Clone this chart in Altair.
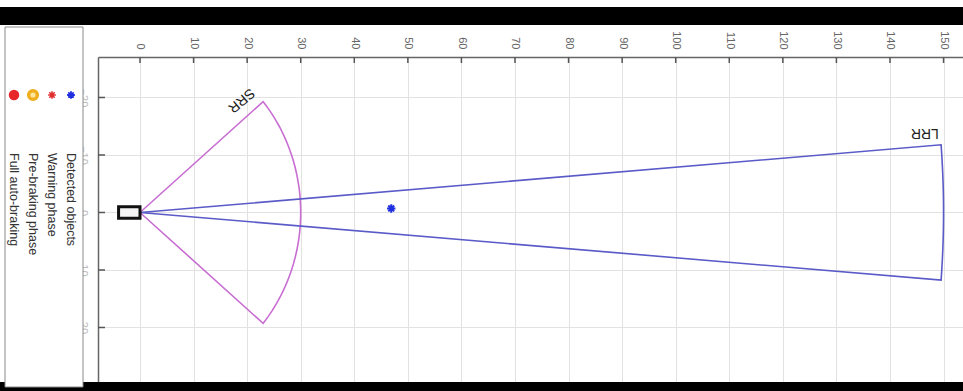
import altair as alt
import numpy as np
import pandas as pd

# Sensor coverage parameters (range in m, half opening angle in degrees)
sensor_names = ["SRR", "LRR"]
sensor_range = [30.0, 150.0]
sensor_half_angle = [40.0, 4.5]
sensor_colors = ["#c86ed2", "#5a5ac8"]

# Sensor label anchor points and text angles
label_x = [18.9, 146.5]
label_y = [-19.5, -13.9]
label_angle = [140, 180]

# Ego vehicle footprint (m)
car_x = [-4.0]
car_x2 = [0.0]
car_y = [-1.0]
car_y2 = [1.0]

# Detected object
obj_x = [46.9]
obj_y = [-0.7]

# Axis ticks
x_ticks = list(range(0, 151, 10))
y_ticks = [-20, -10, 0, 10, 20]

# Legend entries (left to right)
legend_names = ["Full auto-braking", "Pre-braking phase", "Warning phase", "Detected objects"]

ASTERISK = "M0,-1L0,1M-1,0L1,0M-0.7,-0.7L0.7,0.7M-0.7,0.7L0.7,-0.7"

# Outline of each coverage sector: origin -> arc -> origin
rows = []
for name, r, a in zip(sensor_names, sensor_range, sensor_half_angle):
    angles = np.radians(np.linspace(-a, a, 61))
    pts = [(0.0, 0.0)] + [(r * np.cos(t), r * np.sin(t)) for t in angles] + [(0.0, 0.0)]
    for i, (px, py) in enumerate(pts):
        rows.append({"sensor": name, "x": px, "y": py, "order": i})
sectors = pd.DataFrame(rows)

x_scale = alt.Scale(domain=[-7.84, 153.63], nice=False, zero=False)
y_scale = alt.Scale(domain=[-27.04, 29.48], nice=False, zero=False, reverse=True)

x_axis = alt.Axis(orient="top", values=x_ticks, title=None, grid=True, gridColor="#e2e2e2",
                  tickSize=0, labelAngle=90, labelAlign="right", labelBaseline="middle",
                  labelPadding=8, labelColor="#666666", labelFontSize=11, labelFont="Liberation Sans",
                  domainColor="#666666", domainWidth=1.5)
y_axis = alt.Axis(orient="left", values=y_ticks, title=None, grid=True, gridColor="#e2e2e2",
                  tickSize=0, labelAngle=90, labelAlign="center", labelBaseline="top",
                  labelPadding=10, labelColor="#bbbbbb", labelFontSize=11, labelFont="Liberation Sans",
                  domainColor="#666666", domainWidth=1.5)

base_x = alt.X("x:Q", scale=x_scale, axis=x_axis)
base_y = alt.Y("y:Q", scale=y_scale, axis=y_axis)

sector_lines = alt.Chart(sectors).mark_line(strokeWidth=1.6).encode(
    x=base_x,
    y=base_y,
    order="order:Q",
    detail="sensor:N",
    color=alt.Color("sensor:N", scale=alt.Scale(domain=sensor_names, range=sensor_colors), legend=None),
)

labels_df = pd.DataFrame({"sensor": sensor_names, "x": label_x, "y": label_y, "angle": label_angle})
sensor_labels = alt.Chart(labels_df).mark_text(
    fontSize=14, font="Liberation Sans", color="#222222", align="center", baseline="middle"
).encode(x="x:Q", y="y:Q", text="sensor:N", angle=alt.Angle("angle:Q", scale=None))

car_df = pd.DataFrame({"x": car_x, "x2": car_x2, "y": car_y, "y2": car_y2})
car = alt.Chart(car_df).mark_rect(fill="#f4f4f4", stroke="#111111", strokeWidth=3).encode(
    x="x:Q", x2="x2:Q", y="y:Q", y2="y2:Q"
)

obj_df = pd.DataFrame({"x": obj_x, "y": obj_y})
detected = alt.Chart(obj_df).mark_point(
    shape=ASTERISK, size=70, filled=False, strokeWidth=2, color="#1f2fe0", opacity=1
).encode(x="x:Q", y="y:Q")

# Inward tick marks along the top and left edges
xt_df = pd.DataFrame({"x": x_ticks})
x_tick_marks = alt.Chart(xt_df).mark_rule(color="#555555", strokeWidth=1.5).encode(
    x="x:Q", y=alt.value(0), y2=alt.value(6)
)
yt_df = pd.DataFrame({"y": y_ticks})
y_tick_marks = alt.Chart(yt_df).mark_rule(color="#555555", strokeWidth=1.5).encode(
    y="y:Q", x=alt.value(0), x2=alt.value(7)
)

one = pd.DataFrame({"k": [0]})

# Letterbox bars
bar_top = alt.Chart(one).mark_rect(color="black").encode(
    x=alt.value(-98), x2=alt.value(865), y=alt.value(-50), y2=alt.value(-32)
)
bar_bottom = alt.Chart(one).mark_rect(color="black").encode(
    x=alt.value(-98), x2=alt.value(865), y=alt.value(325), y2=alt.value(334)
)

# Legend panel
legend_box = alt.Chart(one).mark_rect(fill="white", stroke="#8a8a8a", strokeWidth=1).encode(
    x=alt.value(-93), x2=alt.value(-15), y=alt.value(-30), y2=alt.value(330)
)

legend_x = [-84, -65, -46, -27]
legend_layers = []
sym_y = 38
# Full auto-braking: solid red disc
legend_layers.append(alt.Chart(one).mark_point(
    shape="circle", size=110, filled=True, color="#e8262a", opacity=1
).encode(x=alt.value(legend_x[0]), y=alt.value(sym_y)))
# Pre-braking phase: amber ring
legend_layers.append(alt.Chart(one).mark_point(
    shape="circle", size=75, filled=False, fill="#fbe7a0", stroke="#f0ae1e", strokeWidth=3.5, opacity=1
).encode(x=alt.value(legend_x[1]), y=alt.value(sym_y)))
# Warning phase: red asterisk
legend_layers.append(alt.Chart(one).mark_point(
    shape=ASTERISK, size=60, filled=False, strokeWidth=1.6, color="#e03030", opacity=1
).encode(x=alt.value(legend_x[2]), y=alt.value(sym_y)))
# Detected objects: blue asterisk
legend_layers.append(alt.Chart(one).mark_point(
    shape=ASTERISK, size=60, filled=False, strokeWidth=1.8, color="#1f2fe0", opacity=1
).encode(x=alt.value(legend_x[3]), y=alt.value(sym_y)))

for name, lx in zip(legend_names, legend_x):
    legend_layers.append(alt.Chart(pd.DataFrame({"t": [name]})).mark_text(
        angle=90, align="left", baseline="middle", fontSize=12.5, font="Liberation Sans", color="#333333"
    ).encode(x=alt.value(lx), y=alt.value(96), text="t:N"))

chart = alt.layer(
    sector_lines, sensor_labels, car, detected, x_tick_marks, y_tick_marks,
    bar_top, bar_bottom, legend_box, *legend_layers
).properties(
    width=865, height=325,
    padding={"left": 98, "top": 57, "right": 0, "bottom": 9},
    autosize=alt.AutoSizeParams(type="none"),
    background="white",
).configure_view(stroke="transparent")

chart.save("out.html", embed_options={"renderer": "svg", "actions": False})
